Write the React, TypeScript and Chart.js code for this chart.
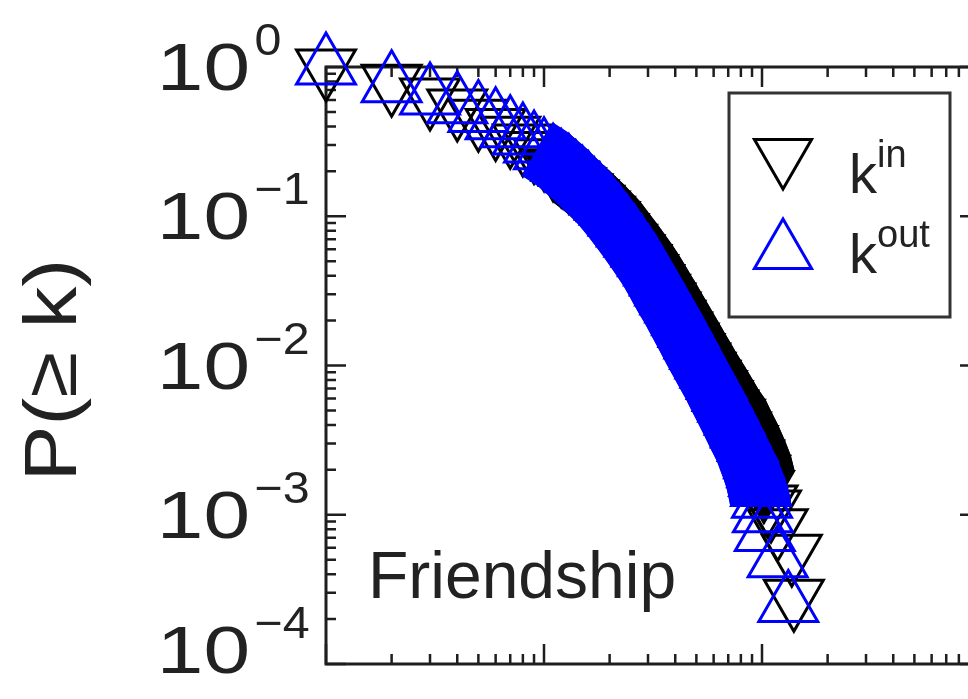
import React, { useEffect, useRef } from 'react';
import { Chart, registerables } from 'chart.js';

Chart.register(...registerables);

// Out-degree distribution P(>= k)
const kOut = [1, 2, 3, 4, 5, 6, 7, 8, 9, 10, 11, 12, 13, 14, 15, 16, 17, 18, 19, 20,
  22, 24, 26, 28, 30, 32, 34, 36, 38, 40, 43, 46, 49, 52, 55, 58, 62, 66, 70, 75,
  80, 86, 92, 95, 97, 99, 100, 101, 103, 118, 132];
const pOut = [1, 0.76, 0.63, 0.55, 0.48, 0.43, 0.38, 0.34, 0.30, 0.27, 0.245, 0.226, 0.209, 0.19, 0.174, 0.16, 0.146, 0.135, 0.124, 0.115,
  0.097, 0.082, 0.070, 0.060, 0.052, 0.045, 0.0385, 0.033, 0.0288, 0.0254, 0.0209, 0.0174, 0.0146, 0.0124, 0.0107, 0.0093, 0.0078, 0.0065, 0.0055, 0.0045,
  0.0037, 0.0030, 0.0023, 0.0020, 0.00175, 0.0015, 0.00125, 0.0010, 0.00075, 0.0005, 0.00025];

// In-degree distribution P(>= k)
const kIn = [1, 2, 3, 4, 5, 6, 7, 8, 9, 10, 11, 12, 13, 14, 15, 16, 17, 18, 19, 20,
  22, 24, 26, 28, 30, 32, 34, 36, 38, 40, 43, 46, 49, 52, 55, 58, 62, 66, 70, 75,
  80, 86, 92, 98, 102, 106, 110, 118, 137, 140];
const pIn = [1, 0.79, 0.64, 0.54, 0.46, 0.40, 0.355, 0.315, 0.28, 0.25, 0.215, 0.195, 0.177, 0.16, 0.146, 0.133, 0.122, 0.112, 0.103, 0.095,
  0.079, 0.067, 0.057, 0.049, 0.042, 0.036, 0.031, 0.027, 0.0235, 0.0207, 0.0173, 0.0146, 0.0124, 0.0107, 0.0093, 0.0082, 0.0070, 0.0060, 0.0052, 0.0045,
  0.0037, 0.0030, 0.0024, 0.0019, 0.0015, 0.0012, 0.00111, 0.00083, 0.00056, 0.00028];

const yTickExponents = [0, -1, -2, -3, -4];
const legendSuffixes = ['in', 'out'];
const panelName = 'Friendship';
const yTitle = 'P(\u2265 k)';

const BLUE = '#0000ff';
const BLACK = '#000000';
const AXIS = '#1e1e1e';
const TEXT = '#222222';
const FONT = '"Liberation Sans", Arial, Helvetica, sans-serif';
const MARKER_R = 34;
const MARKER_LW = 3;

function trianglePath(ctx: CanvasRenderingContext2D, cx: number, cy: number, r: number, down: boolean) {
  const d = down ? -1 : 1;
  ctx.beginPath();
  ctx.moveTo(cx, cy - r * d);
  ctx.lineTo(cx + 0.866 * r, cy + 0.5 * r * d);
  ctx.lineTo(cx - 0.866 * r, cy + 0.5 * r * d);
  ctx.closePath();
}

// Where markers crowd together their outlines merge into a solid band;
// fill the area swept by the triangle between neighbouring points.
const sweepPlugin = {
  id: 'markerSweep',
  beforeDatasetDraw(chart: any, args: any) {
    const ds = chart.data.datasets[args.index];
    if (!ds.sweep) return;
    const pts = args.meta.data;
    const ctx: CanvasRenderingContext2D = chart.ctx;
    const r = MARKER_R + MARKER_LW / 2;
    const d = ds.pointRotation === 180 ? -1 : 1;
    const tri = [[0, -r * d], [0.866 * r, 0.5 * r * d], [-0.866 * r, 0.5 * r * d]];
    const poly = (list: number[][]) => {
      ctx.beginPath();
      ctx.moveTo(list[0][0], list[0][1]);
      for (let i = 1; i < list.length; i++) ctx.lineTo(list[i][0], list[i][1]);
      ctx.closePath();
      ctx.fill();
    };
    ctx.save();
    ctx.fillStyle = ds.pointBorderColor;
    for (let i = 0; i < pts.length - 1; i++) {
      const k0 = ds.data[i].x;
      const k1 = ds.data[i + 1].x;
      if (k0 < ds.sweep[0] || k1 > ds.sweep[1]) continue;
      const a = pts[i];
      const b = pts[i + 1];
      for (const p of [a, b]) poly(tri.map(([dx, dy]) => [p.x + dx, p.y + dy]));
      for (let e = 0; e < 3; e++) {
        const u = tri[e];
        const v = tri[(e + 1) % 3];
        poly([[a.x + u[0], a.y + u[1]], [a.x + v[0], a.y + v[1]], [b.x + v[0], b.y + v[1]], [b.x + u[0], b.y + u[1]]]);
      }
    }
    ctx.restore();
  },
};

// Boxed axes with inward major and minor ticks on all four sides.
const framePlugin = {
  id: 'boxFrame',
  beforeDatasetsDraw(chart: any) {
    const { ctx, chartArea: a, scales } = chart;
    const xs = scales.x;
    const ys = scales.y;
    ctx.save();
    ctx.strokeStyle = AXIS;
    ctx.lineCap = 'butt';
    ctx.lineWidth = 2.5;
    for (let e = 0; e <= 3; e++) {
      for (let m = 1; m <= 9; m++) {
        const v = m * Math.pow(10, e);
        if (v < xs.min || v > xs.max) continue;
        const px = xs.getPixelForValue(v);
        const len = m === 1 ? 20 : 10;
        ctx.beginPath();
        ctx.moveTo(px, a.bottom);
        ctx.lineTo(px, a.bottom - len);
        ctx.moveTo(px, a.top);
        ctx.lineTo(px, a.top + len);
        ctx.stroke();
      }
    }
    for (let e = -4; e <= 0; e++) {
      for (let m = 1; m <= 9; m++) {
        const v = m * Math.pow(10, e);
        if (v < ys.min * 0.999 || v > ys.max * 1.001) continue;
        const py = ys.getPixelForValue(v);
        const len = m === 1 ? 20 : 10;
        ctx.beginPath();
        ctx.moveTo(a.left, py);
        ctx.lineTo(a.left + len, py);
        ctx.moveTo(a.right, py);
        ctx.lineTo(a.right - len, py);
        ctx.stroke();
      }
    }
    ctx.lineWidth = 3;
    ctx.strokeRect(a.left, a.top, a.right - a.left, a.bottom - a.top);
    ctx.restore();
  },
  afterDraw(chart: any) {
    const { ctx, scales, chartArea: a } = chart;
    const ys = scales.y;
    ctx.save();
    ctx.fillStyle = TEXT;
    // y tick labels: a wide "10" with a superscript exponent
    for (const e of yTickExponents) {
      const py = Math.min(ys.getPixelForValue(Math.pow(10, e)), a.bottom - 14);
      ctx.save();
      ctx.translate(250, py);
      ctx.save();
      ctx.scale(1.27, 1);
      ctx.font = `66px ${FONT}`;
      ctx.textAlign = 'right';
      ctx.textBaseline = 'alphabetic';
      ctx.fillText('10', 0, 23);
      ctx.restore();
      ctx.scale(1.1, 1);
      ctx.font = `44px ${FONT}`;
      ctx.textAlign = 'left';
      ctx.fillText(e === 0 ? '0' : '\u2212' + Math.abs(e), 4, -12);
      ctx.restore();
    }
    // y axis title
    ctx.save();
    ctx.translate(76, 370);
    ctx.rotate(-Math.PI / 2);
    ctx.scale(1.13, 1);
    ctx.font = `74px ${FONT}`;
    ctx.textAlign = 'center';
    ctx.textBaseline = 'alphabetic';
    ctx.fillText(yTitle, 0, 0);
    ctx.restore();
    // panel name
    ctx.font = `66px ${FONT}`;
    ctx.textAlign = 'left';
    ctx.fillText(panelName, 368, 598);
    // legend
    ctx.fillStyle = '#ffffff';
    ctx.fillRect(729, 93, 221, 224);
    ctx.strokeStyle = '#333333';
    ctx.lineWidth = 3;
    ctx.strokeRect(729, 93, 221, 224);
    ctx.lineWidth = MARKER_LW;
    ctx.strokeStyle = BLACK;
    trianglePath(ctx, 783, 156, 33, true);
    ctx.stroke();
    ctx.strokeStyle = BLUE;
    trianglePath(ctx, 783, 252, 33, false);
    ctx.stroke();
    ctx.fillStyle = TEXT;
    const rows = [193, 273];
    legendSuffixes.forEach((s, i) => {
      ctx.font = `56px ${FONT}`;
      ctx.fillText('k', 849, rows[i]);
      ctx.font = `38px ${FONT}`;
      ctx.fillText(s, 877, rows[i] - 26);
    });
    ctx.restore();
  },
};

export default function App() {
  const ref = useRef<HTMLCanvasElement | null>(null);
  useEffect(() => {
    const canvas = ref.current;
    if (!canvas) return;
    const chart = new Chart(canvas, {
      type: 'scatter',
      data: {
        datasets: [
          {
            label: 'k out',
            data: kOut.map((k, i) => ({ x: k, y: pOut[i] })),
            pointStyle: 'triangle',
            pointRotation: 0,
            pointRadius: MARKER_R,
            pointBorderWidth: MARKER_LW,
            pointBorderColor: BLUE,
            pointBackgroundColor: 'rgba(0,0,0,0)',
            showLine: false,
            clip: false,
            order: 0,
            sweep: [11, 99],
          } as any,
          {
            label: 'k in',
            data: kIn.map((k, i) => ({ x: k, y: pIn[i] })),
            pointStyle: 'triangle',
            pointRotation: 180,
            pointRadius: MARKER_R,
            pointBorderWidth: MARKER_LW,
            pointBorderColor: BLACK,
            pointBackgroundColor: 'rgba(0,0,0,0)',
            showLine: false,
            clip: false,
            order: 1,
            sweep: [11, 102],
          } as any,
        ],
      },
      options: {
        responsive: false,
        animation: false,
        devicePixelRatio: 1,
        events: [],
        layout: { autoPadding: false, padding: { left: 326, right: 20, top: 67, bottom: 35 } },
        scales: {
          x: { type: 'logarithmic', min: 1, max: 1000, display: false },
          y: { type: 'logarithmic', min: 1e-4, max: 1, display: false },
        },
        plugins: { legend: { display: false }, tooltip: { enabled: false } },
      },
      plugins: [sweepPlugin, framePlugin],
    });
    return () => chart.destroy();
  }, []);
  return (
    <div style={{ position: 'fixed', left: 0, top: 0, width: 968, height: 699, overflow: 'hidden', background: '#ffffff' }}>
      <canvas ref={ref} width={1000} height={699} style={{ width: 1000, height: 699, display: 'block' }} />
    </div>
  );
}
